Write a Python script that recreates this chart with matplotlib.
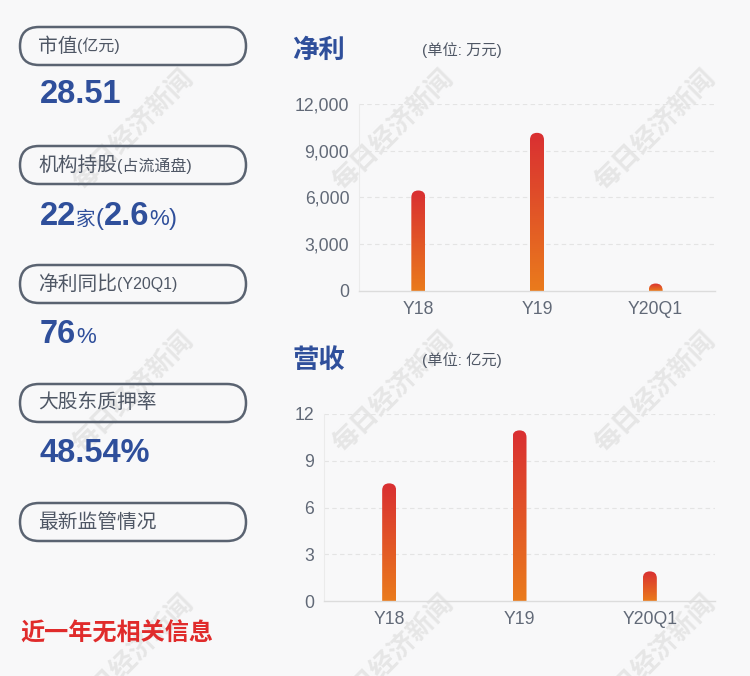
import numpy as np
import matplotlib
matplotlib.use("Agg")
import matplotlib.pyplot as plt
from matplotlib.patches import FancyBboxPatch
from matplotlib.offsetbox import TextArea, HPacker, AnnotationBbox
from matplotlib.colors import LinearSegmentedColormap

plt.rcParams['font.family'] = ['Liberation Sans', 'Noto Sans CJK SC', 'DejaVu Sans']

# ---- data ----
categories = ['Y18', 'Y19', 'Y20Q1']
net_profit = [6450, 10150, 480]        # 万元
revenue = [7.55, 10.95, 1.9]           # 亿元
profit_ticks = [0, 3000, 6000, 9000, 12000]
revenue_ticks = [0, 3, 6, 9, 12]

panel_labels = [('市值', '(亿元)'), ('机构持股', '(占流通盘)'), ('净利同比', '(Y20Q1)'),
                ('大股东质押率', ''), ('最新监管情况', '')]
market_cap = '28.51'
inst_count = '22'
inst_pct = '2.6'
profit_yoy = '76'
pledge_ratio = '48.54%'
notice_text = '近一年无相关信息'
watermark = '每日经济新闻'

W, H = 750, 676
BG = '#f8f8f9'
BLUE = '#2f4f9b'
GRAY = '#4f5765'
TICK = '#616977'

fig = plt.figure(figsize=(W / 100, H / 100), dpi=100, facecolor=BG)
bg = fig.add_axes([0, 0, 1, 1], zorder=0)
bg.set_xlim(0, W)
bg.set_ylim(H, 0)
bg.axis('off')

# watermark grid (the bottom row is cut by the edge, as in the original)
for wx in [133, 393, 655]:
    for wy in [130, 392, 655]:
        bg.text(wx, wy, watermark, rotation=45, fontsize=19, fontweight='bold',
                color='#e6e6e6', ha='center', va='center',
                family=['Noto Sans CJK SC'], zorder=0)

# left panel pills
for i, (main, sub) in enumerate(panel_labels):
    top = 27 + i * 119
    pill = FancyBboxPatch((20, top), 226, 38, boxstyle='round,pad=0,rounding_size=19',
                          fc='none', ec='#5a6371', lw=1.8, zorder=2)
    bg.add_patch(pill)
    parts = [TextArea(main, textprops=dict(fontsize=14.2, color=GRAY))]
    if sub:
        parts.append(TextArea(sub, textprops=dict(fontsize=11.5, color=GRAY)))
    box = HPacker(children=parts, align='baseline', pad=0, sep=0)
    bg.add_artist(AnnotationBbox(box, (38, top + 19), xycoords='data', box_alignment=(0, 0.5),
                                 frameon=False, pad=0, zorder=3))


def value_line(pieces, y):
    parts = [TextArea(s, textprops=dict(fontsize=fs, color=BLUE, fontweight=fw))
             for s, fs, fw in pieces]
    box = HPacker(children=parts, align='baseline', pad=0, sep=0)
    bg.add_artist(AnnotationBbox(box, (40, y), xycoords='data', box_alignment=(0, 0),
                                 frameon=False, pad=0, zorder=3))


value_line([(market_cap, 23.5, 'bold')], 110)
value_line([(inst_count, 23.5, 'bold'), ('家', 14, 'normal'), ('(', 17, 'normal'),
            (inst_pct, 23.5, 'bold'), ('%', 16, 'normal'), (')', 17, 'normal')], 232)
value_line([(profit_yoy, 23.5, 'bold'), ('%', 16, 'normal')], 350)
value_line([(pledge_ratio, 23.5, 'bold')], 469)

bg.text(20, 634, notice_text, fontsize=17.4, fontweight='bold', color='#e02b2b',
        ha='left', va='center', family=['Noto Sans CJK SC'])

# chart titles
bg.text(292, 50, '净利', fontsize=19, fontweight='bold', color=BLUE, va='center',
        family=['Noto Sans CJK SC'])
bg.text(422, 50, '(单位: 万元)', fontsize=11, color=GRAY, va='center')
bg.text(292, 360, '营收', fontsize=19, fontweight='bold', color=BLUE, va='center',
        family=['Noto Sans CJK SC'])
bg.text(422, 360, '(单位: 亿元)', fontsize=11, color=GRAY, va='center')

cmap = LinearSegmentedColormap.from_list('barfade', ['#ea7b1c', '#d92f32'])


def bar_chart(rect_px, values, ticks, labels):
    l, t, r, b = rect_px
    ax = fig.add_axes([l / W, 1 - b / H, (r - l) / W, (b - t) / H], zorder=1)
    ax.set_facecolor('none')
    x = np.arange(len(values))
    ymax = ticks[-1]
    xpp = 3.0 / (r - l)
    ypp = ymax / (b - t)
    w = 14 * xpp
    rad = w / 2 * ypp / xpp
    grad = np.linspace(0, 1, 256).reshape(-1, 1)
    for xi, v in zip(x, values):
        clip = FancyBboxPatch((xi - w / 2, -rad), w, v + rad,
                              boxstyle=f'round,pad=0,rounding_size={w / 2}',
                              mutation_aspect=ypp / xpp, fc='none', ec='none', lw=0)
        ax.add_patch(clip)
        im = ax.imshow(grad, extent=[xi - w / 2, xi + w / 2, 0, v], origin='lower',
                       cmap=cmap, aspect='auto', zorder=2, interpolation='bilinear')
        im.set_clip_path(clip)
    ax.set_xlim(-0.5, len(values) - 0.5)
    ax.set_ylim(0, ymax)
    ax.set_yticks(ticks)
    ax.set_yticklabels([f'{t:,}' for t in ticks])
    ax.set_xticks(x)
    ax.set_xticklabels(labels)
    ax.tick_params(length=0, labelsize=12.7, labelcolor=TICK)
    ax.tick_params(axis='y', pad=7)
    ax.tick_params(axis='x', pad=7)
    for tv in ticks[1:]:
        ax.axhline(tv, color='#e4e4e4', lw=0.8, ls=(0, (4, 3)), zorder=1)
    for s in ['top', 'right']:
        ax.spines[s].set_visible(False)
    ax.spines['left'].set_color('#ebebeb')
    ax.spines['bottom'].set_color('#dcdcdc')
    ax.spines['bottom'].set_linewidth(1)
    ax.spines['left'].set_linewidth(0.8)
    return ax


bar_chart((359, 104, 715, 291), net_profit, profit_ticks, categories)
bar_chart((324, 414, 715, 601), revenue, revenue_ticks, categories)

fig.savefig('out.png', dpi=100, facecolor=BG)
